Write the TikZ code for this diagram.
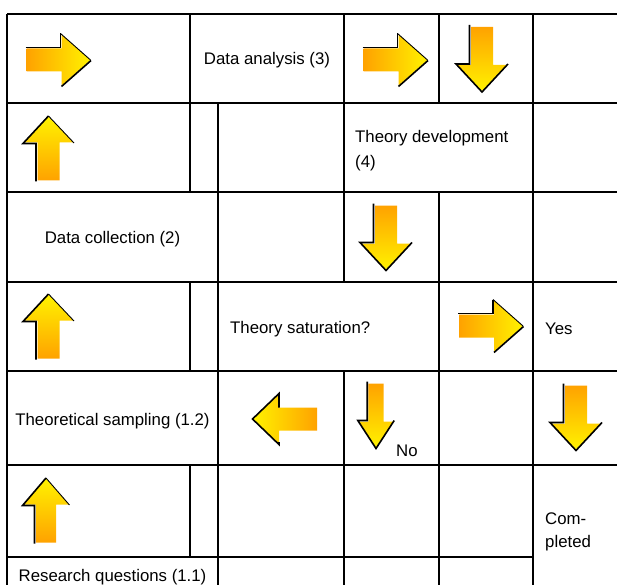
\documentclass[tikz,border=0pt]{standalone}
\usepackage{fontspec}
\setmainfont{Liberation Sans}
\definecolor{arrtail}{HTML}{FFA200}
\definecolor{arrmid}{HTML}{FFCC00}
\definecolor{arrhead}{HTML}{FFF200}

\tikzset{
  shadowline/.style={line width=1.6pt},
  thinshadow/.style={line width=0.9pt},
  % block arrows, 64 units long, centred on the pic position
  pics/rarrow/.style={code={
    \shade[left color=arrtail, middle color=arrmid, right color=arrhead]
      (-32,-11.5) -- (3,-11.5) -- (3,-25.5) -- (32,0) -- (3,25.5) -- (3,11.5) -- (-32,11.5) -- cycle;
    \draw[shadowline] (-33,-12.5) -- (2,-12.5) -- (2,-26.5);
    \draw[thinshadow] (2,-26.5) -- (32,0);
    \draw[shadowline] (32.5,0.5) -- (3,26.5);
  }},
  pics/larrow/.style={code={
    \shade[left color=arrhead, middle color=arrmid, right color=arrtail]
      (-32,0) -- (-6,-25) -- (-6,-11.5) -- (32,-11.5) -- (32,11.5) -- (-6,11.5) -- (-6,25) -- cycle;
    \draw[shadowline] (-6,-11.5) -- (-6,-25.5) -- (-32.5,0) -- (-6,25.5) -- (-6,23);
  }},
  pics/uarrow/.style={code={
    \shade[top color=arrhead, middle color=arrmid, bottom color=arrtail]
      (0,-32) -- (25,-6) -- (11,-6) -- (11,32) -- (-11,32) -- (-11,-6) -- (-25,-6) -- cycle;
    \draw[shadowline] (-12.5,33) -- (-12.5,-5) -- (-25.5,-5) -- (0,-32.5);
    \draw[thinshadow] (0,-32.5) -- (25.5,-5.5);
  }},
  pics/darrow/.style={code={
    \shade[top color=arrtail, middle color=arrmid, bottom color=arrhead]
      (-11,-32) -- (11,-32) -- (11,6) -- (25,6) -- (0,32) -- (-25,6) -- (-11,6) -- cycle;
    \draw[shadowline] (-12.5,-34) -- (-12.5,5) -- (-26,5) -- (0,33) -- (26,5);
  }}
}

\begin{document}
\begin{tikzpicture}[x=1pt, y=-1pt,
  grid/.style={line width=1.4pt, black},
  lbl/.style={font=\fontsize{16.8}{20}\selectfont, inner sep=0pt}]
\useasboundingbox (0,0) rectangle (617,585);

% table rules
\draw[grid] (7,14) -- (617,14) (7,103) -- (617,103) (7,192) -- (617,192)
  (7,282) -- (617,282) (7,371) -- (617,371) (7,465) -- (617,465) (7,557) -- (533,557);
\draw[grid] (7,14) -- (7,585)
  (190,14) -- (190,192) (190,282) -- (190,371) (190,465) -- (190,557)
  (218,103) -- (218,585)
  (344,14) -- (344,282) (344,371) -- (344,585)
  (439,14) -- (439,103) (439,192) -- (439,585)
  (533,14) -- (533,585);

% cell texts
\node[lbl] (analysis) at (267,60.5) {Data analysis (3)};
\node[lbl, anchor=north west, align=left, font=\fontsize{16.8}{25}\selectfont] (development) at (355,130) {Theory development\\(4)};
\node[lbl] (collection) at (112.5,239.5) {Data collection (2)};
\node[lbl, anchor=west] (saturation) at (230,329) {Theory saturation?};
\node[lbl, anchor=west] (yes) at (545,329) {Yes};
\node[lbl] (sampling) at (112.5,421) {Theoretical sampling (1.2)};
\node[lbl, anchor=west] (no) at (396,450.5) {No};
\node[lbl, anchor=north west, align=left, font=\fontsize{16.8}{22.5}\selectfont] (completed) at (545,513) {Com-\\pleted};
\node[lbl] (questions) at (112.5,577) {Research questions (1.1)};

% arrows
\pic (r1) at (58.5,60) {rarrow};
\pic (r2) at (395.5,60) {rarrow};
\pic (r3) at (491,326) {rarrow};
\pic (d1) at (482,59) {darrow};
\pic (d2) at (386,237.5) {darrow};
\pic[xscale=0.7] (d3) at (376,415.5) {darrow};
\pic (d4) at (576,417.5) {darrow};
\pic (u1) at (48.5,148.5) {uarrow};
\pic (u2) at (48.5,326.5) {uarrow};
\pic[xscale=0.92] (u3) at (46,510.5) {uarrow};
\pic (l1) at (285,419) {larrow};
\end{tikzpicture}
\end{document}
